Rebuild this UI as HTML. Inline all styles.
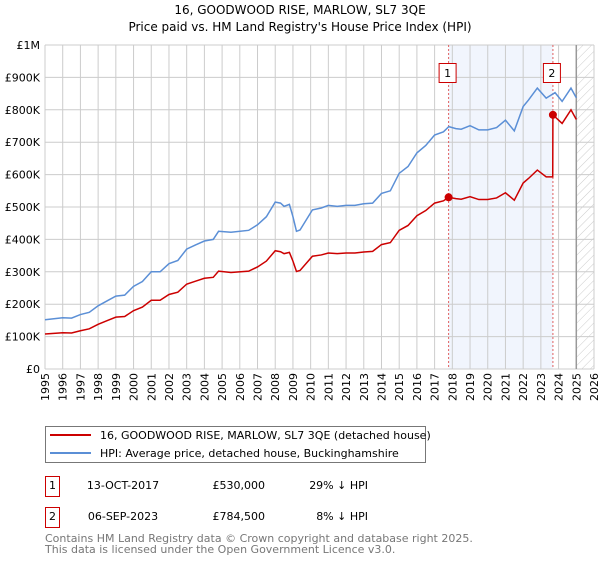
<!DOCTYPE html>
<html><head><meta charset="utf-8"><style>
body{margin:0;background:#fff;font-family:"Liberation Sans","DejaVu Sans",sans-serif;}
svg text{font-family:"DejaVu Sans","Liberation Sans",sans-serif;}
</style></head><body>
<svg id="c" width="600" height="560" viewBox="0 0 600 560" xmlns="http://www.w3.org/2000/svg">
<defs><pattern id="hatch" width="6" height="6" patternUnits="userSpaceOnUse" patternTransform="rotate(45)"><line x1="0" y1="0" x2="0" y2="6" stroke="#ccc" stroke-width="1"/></pattern></defs>
<text x="300" y="14" text-anchor="middle" font-size="12">16, GOODWOOD RISE, MARLOW, SL7 3QE</text>
<text x="300" y="31" text-anchor="middle" font-size="12">Price paid vs. HM Land Registry's House Price Index (HPI)</text>
<g id="plot"></g>
<g>
<rect x="45.5" y="426.5" width="380" height="36" fill="#fff" stroke="#777"/>
<line x1="50" y1="435" x2="91" y2="435" stroke="#cc0000" stroke-width="2"/>
<text x="100" y="439" font-size="11">16, GOODWOOD RISE, MARLOW, SL7 3QE (detached house)</text>
<line x1="50" y1="453" x2="91" y2="453" stroke="#5b8fd6" stroke-width="2"/>
<text x="100" y="457" font-size="11">HPI: Average price, detached house, Buckinghamshire</text>
</g>
<g font-size="11">
<rect x="45.5" y="476.5" width="14" height="20" fill="#fff" stroke="#cc0000"/>
<text x="52.5" y="489" text-anchor="middle">1</text>
<text x="123" y="489" text-anchor="middle">13-OCT-2017</text>
<text x="265" y="489" text-anchor="end">£530,000</text>
<text x="368" y="489" text-anchor="end">29% ↓ HPI</text>
<rect x="45.5" y="507.5" width="14" height="20" fill="#fff" stroke="#cc0000"/>
<text x="52.5" y="520" text-anchor="middle">2</text>
<text x="123" y="520" text-anchor="middle">06-SEP-2023</text>
<text x="265" y="520" text-anchor="end">£784,500</text>
<text x="368" y="520" text-anchor="end">8% ↓ HPI</text>
</g>
</svg>
<script>
const hpiYears=[1995,1995.5,1996,1996.5,1997,1997.5,1998,1998.5,1999,1999.5,2000,2000.5,2001,2001.5,2002,2002.5,2003,2003.5,2004,2004.5,2004.8,2005.5,2006.5,2007,2007.5,2008,2008.3,2008.5,2008.8,2009,2009.2,2009.4,2010.1,2010.6,2011,2011.5,2012,2012.5,2013,2013.5,2014,2014.5,2015,2015.5,2016,2016.5,2017,2017.5,2017.8,2018.2,2018.5,2019,2019.5,2020,2020.5,2021,2021.5,2022,2022.3,2022.8,2023.3,2023.8,2024.2,2024.7,2025];
const hpiValues=[152000,155000,158000,157000,168000,175000,195000,210000,225000,228000,255000,270000,300000,300000,325000,335000,370000,383000,395000,400000,425000,422000,428000,445000,470000,515000,512000,502000,508000,470000,425000,429000,491000,497000,505000,502000,505000,505000,510000,512000,542000,550000,604000,625000,667000,690000,722000,732000,748000,742000,740000,751000,738000,738000,745000,768000,735000,810000,830000,867000,836000,853000,826000,867000,837000];
const ppYears=[1995,1995.5,1996,1996.5,1997,1997.5,1998,1998.5,1999,1999.5,2000,2000.5,2001,2001.5,2002,2002.5,2003,2003.5,2004,2004.5,2004.8,2005.5,2006.5,2007,2007.5,2008,2008.3,2008.5,2008.8,2009,2009.2,2009.4,2010.1,2010.6,2011,2011.5,2012,2012.5,2013,2013.5,2014,2014.5,2015,2015.5,2016,2016.5,2017,2017.5,2017.79,2018.2,2018.5,2019,2019.5,2020,2020.5,2021,2021.5,2022,2022.3,2022.8,2023.3,2023.67,2023.68,2024.2,2024.7,2025];
const ppValues=[108000,110000,112000,111000,118000,124000,138000,149000,160000,162000,180000,191000,212000,212000,230000,237000,262000,271000,280000,283000,302000,298000,302000,315000,333000,365000,362000,356000,360000,333000,301000,304000,348000,352000,358000,356000,358000,358000,361000,363000,384000,390000,428000,443000,473000,489000,512000,519000,530000,526000,524000,532000,523000,523000,528000,544000,521000,574000,588000,614000,593000,593000,784500,758000,800000,770000];
const sales=[{n:'1',year:2017.79,value:530000},{n:'2',year:2023.68,value:784500}];
const yTicks=[0,100000,200000,300000,400000,500000,600000,700000,800000,900000,1000000];
const yTickLabels=['£0','£100K','£200K','£300K','£400K','£500K','£600K','£700K','£800K','£900K','£1M'];
const xTicks=[1995,1996,1997,1998,1999,2000,2001,2002,2003,2004,2005,2006,2007,2008,2009,2010,2011,2012,2013,2014,2015,2016,2017,2018,2019,2020,2021,2022,2023,2024,2025,2026];
const X0=45,X1=594,Y0=369,Y1=45;
const xs=y=>X0+(y-1995)/(2026-1995)*(X1-X0);
const ys=v=>Y0-v/1000000*(Y0-Y1);
const NS='http://www.w3.org/2000/svg';
const g=document.getElementById('plot');
function mk(t,a,p){const e=document.createElementNS(NS,t);for(const k in a)e.setAttribute(k,a[k]);(p||g).appendChild(e);return e;}
const shade=mk('rect',{x:xs(sales[0].year),y:Y1,width:xs(sales[1].year)-xs(sales[0].year),height:Y0-Y1,fill:'#eef3fc',opacity:0.8});


const hatch=mk('rect',{x:xs(2025),y:Y1,width:X1-xs(2025),height:Y0-Y1,fill:'url(#hatch)'});


xTicks.forEach((t,i)=>{
 const l=mk('line',{x1:xs(t),x2:xs(t),y1:Y1,y2:Y0,stroke:'#ccc','stroke-width':1});
 
 
 const tx=mk('text',{x:0,y:0,'font-size':11,'text-anchor':'end',transform:`translate(${xs(t)+4},373) rotate(-90)`});
 tx.textContent=t;
 
 
});
yTicks.forEach((t,i)=>{
 const l=mk('line',{x1:X0,x2:X1,y1:ys(t),y2:ys(t),stroke:'#ccc','stroke-width':1});
 
 
 const tx=mk('text',{x:40,y:ys(t)+4,'font-size':11,'text-anchor':'end'});
 tx.textContent=yTickLabels[i];
 
 
});
const nowLine=mk('line',{x1:xs(2025),x2:xs(2025),y1:Y1,y2:Y0,stroke:'#999','stroke-width':1.5});


sales.forEach(s=>{
 const l=mk('line',{x1:xs(s.year),x2:xs(s.year),y1:Y1,y2:Y0,stroke:'#e06060','stroke-width':1,'stroke-dasharray':'2,2'});
 
 
 const b=mk('rect',{x:xs(s.year)-9.5,y:63.5,width:17,height:19,fill:'#fff',stroke:'#cc0000'});
 
 
 const t=mk('text',{x:xs(s.year)-1,y:77,'font-size':11,'text-anchor':'middle'});
 t.textContent=s.n;
 
 
});
const hp=mk('polyline',{points:hpiYears.map((y,i)=>xs(y)+','+ys(hpiValues[i])).join(' '),fill:'none',stroke:'#5b8fd6','stroke-width':1.5});


const pp=mk('polyline',{points:ppYears.map((y,i)=>xs(y)+','+ys(ppValues[i])).join(' '),fill:'none',stroke:'#cc0000','stroke-width':1.5});


sales.forEach(s=>{
 const c=mk('circle',{cx:xs(s.year),cy:ys(s.value),r:4,fill:'#cc0000'});
 
 
});
const svg=document.getElementById('c');
[['Contains HM Land Registry data © Crown copyright and database right 2025.',542],['This data is licensed under the Open Government Licence v3.0.',553]].forEach(r=>{
 const t=mk('text',{x:45,y:r[1],'font-size':11,fill:'#777'},svg);
 t.textContent=r[0];
 
 
});
</script>
</body></html>
